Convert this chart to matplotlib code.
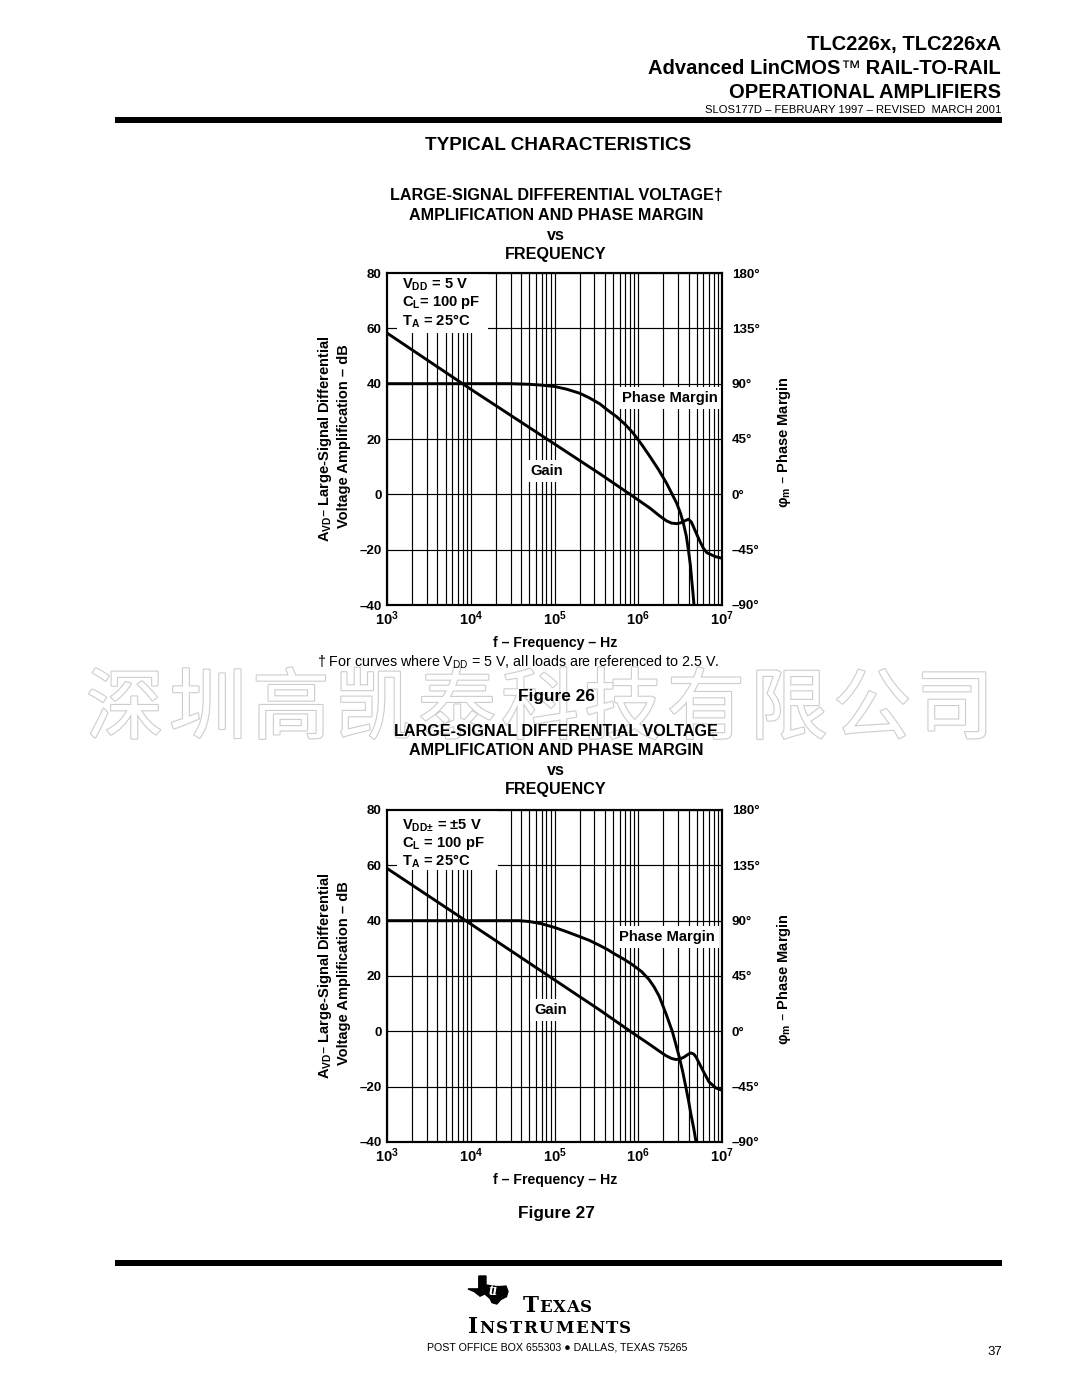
import matplotlib
matplotlib.use("Agg")
import matplotlib.pyplot as plt
from matplotlib.patches import Rectangle, Polygon
from matplotlib.lines import Line2D
import matplotlib.patheffects as pe

plt.rcParams['font.family'] = ['Liberation Sans', 'DejaVu Sans']
plt.rcParams['mathtext.default'] = 'regular'

# ---------------- data ----------------
# Figure 26  (VDD = 5 V)
freq_gain_26 = [1e3, 1e4, 1e5, 3.49e5, 8.73e5, 1.38e6, 1.8e6, 2.18e6, 2.5e6, 2.88e6,
                3.2e6, 3.46e6, 3.97e6, 4.3e6, 4.56e6, 5.0e6, 5.47e6, 6.0e6, 6.6e6, 8.3e6, 1e7]
gain_26 = [58.3, 38.0, 18.2, 7.4, -0.8, -5.0, -7.8, -9.6, -10.4, -10.6,
           -10.3, -9.8, -9.0, -10.0, -11.7, -14.5, -17.1, -19.5, -21.1, -22.5, -23.1]
freq_phase_26 = [1e3, 1e4, 3e4, 5e4, 7e4, 1e5, 1.4e5, 2e5, 2.6e5, 3.49e5, 4.3e5, 5.5e5, 7e5,
                 8.7e5, 1.1e6, 1.38e6, 1.75e6, 2.18e6, 2.5e6, 2.88e6, 3.2e6, 3.46e6, 3.75e6,
                 3.97e6, 4.2e6, 4.35e6, 4.5e6, 4.63e6]
phase_26 = [90, 90, 90, 89.5, 88.8, 87.7, 85.5, 82.2, 78.5, 73.5, 68.5, 63.2, 56.8,
            49.8, 40.5, 30.7, 20.0, 9.0, 1.0, -7.3, -15.5, -23.6, -34.0,
            -45.3, -58.0, -69.7, -80.0, -90]

# Figure 27  (VDD+- = +-5 V)
freq_gain_27 = [1e3, 1e4, 1e5, 3.43e5, 8.6e5, 1.35e6, 1.75e6, 2.14e6, 2.5e6, 2.82e6,
                3.2e6, 3.53e6, 3.9e6, 4.24e6, 4.6e6, 4.9e6, 5.4e6, 5.9e6, 7.0e6, 8.5e6, 1e7]
gain_27 = [58.9, 38.8, 18.6, 7.8, -0.6, -4.6, -7.0, -8.8, -9.8, -10.2,
           -9.9, -9.3, -8.4, -7.8, -8.2, -9.3, -11.8, -14.1, -18.3, -20.5, -21.3]
freq_phase_27 = [1e3, 1e4, 3.8e4, 5e4, 7e4, 1e5, 1.4e5, 2e5, 2.6e5, 3.43e5, 4.3e5, 5.2e5,
                 6.8e5, 8.6e5, 1.1e6, 1.35e6, 1.55e6, 1.78e6, 2.14e6, 2.56e6, 3.09e6,
                 3.4e6, 3.7e6, 4.0e6, 4.24e6, 4.6e6, 4.9e6]
phase_27 = [90, 90, 90, 89.3, 87.5, 84.5, 81.0, 77.0, 74.0, 70.0, 66.5, 63.0,
            58.5, 54.0, 48.5, 42.0, 36.0, 28.5, 14.5, -0.4, -20.9,
            -33.0, -45.3, -57.0, -66.9, -79.0, -90]

gain_ticks = [-40, -20, 0, 20, 40, 60, 80]
phase_ticks = [-90, -45, 0, 45, 90, 135, 180]
decade_exponents = [3, 4, 5, 6, 7]

# ---------------- figure ----------------
W, H = 1080, 1398
fig = plt.figure(figsize=(W / 100, H / 100), dpi=100)
renderer = fig.canvas.get_renderer()


def fx(x):
    return x / W


def fy(y):
    return 1 - y / H


def ftext(x, y, s, **kw):
    return fig.text(fx(x), fy(y), s, **kw)


def seq_text(x, y, parts, align='left', tracking=0.0):
    """place consecutive text pieces on a shared baseline"""
    arts = []
    for s, kw in parts:
        t = fig.text(0, fy(y), s, va='baseline', ha='left', **kw)
        arts.append(t)
    widths = [t.get_window_extent(renderer).width + tracking for t in arts]
    total = sum(widths) - tracking
    if align == 'right':
        x = x - total
    elif align == 'center':
        x = x - total / 2
    for t, w in zip(arts, widths):
        t.set_x(fx(x))
        x += w
    return arts


def hline(x0, x1, y, lw_px):
    fig.add_artist(Line2D([fx(x0), fx(x1)], [fy(y), fy(y)], color='black',
                          linewidth=lw_px * 0.72, solid_capstyle='butt'))


# ---------------- header ----------------
ftext(1001, 50, 'TLC226x, TLC226xA', ha='right', va='baseline', fontsize=14.5, fontweight='bold')
seq_text(1001, 74, [('Advanced LinCMOS', dict(fontsize=14.5, fontweight='bold')),
                    ('™', dict(fontsize=14.5)),
                    (' RAIL-TO-RAIL', dict(fontsize=14.5, fontweight='bold'))], align='right')
ftext(1001, 98, 'OPERATIONAL AMPLIFIERS', ha='right', va='baseline', fontsize=14.5, fontweight='bold')
ftext(1001, 113, 'SLOS177D – FEBRUARY 1997 – REVISED  MARCH 2001', ha='right', va='baseline', fontsize=8.1)
hline(115, 1002, 120, 6)
ftext(558, 150, 'TYPICAL CHARACTERISTICS', ha='center', va='baseline', fontsize=13.6, fontweight='bold')

TS = 11.6  # chart title size
LS = 10.6  # annotation size


# ---------------- charts ----------------
def chart(top, title_y, fg, g, fp, p, legend, legend_y, box_w, pm_xy, gain_xy, fig_label, fig_label_y,
          footnote=False):
    left, right, bottom = 387, 722, top + 332
    t1, t2, t3, t4 = title_y
    ftext(556, t1, 'LARGE-SIGNAL DIFFERENTIAL VOLTAGE' + ('†' if footnote else ''),
          ha='center', va='baseline', fontsize=TS, fontweight='bold')
    ftext(556, t2, 'AMPLIFICATION AND PHASE MARGIN', ha='center', va='baseline', fontsize=TS, fontweight='bold')
    ftext(556, t3, 'vs', ha='center', va='baseline', fontsize=TS, fontweight='bold')
    ftext(556, t4, 'FREQUENCY', ha='center', va='baseline', fontsize=TS, fontweight='bold')

    ax = fig.add_axes([fx(left), fy(bottom), (right - left) / W, (bottom - top) / H])
    ax.set_xscale('log')
    ax.set_xlim(1e3, 1e7)
    ax.set_ylim(gain_ticks[0], gain_ticks[-1])
    ax.set_yticks(gain_ticks)
    ax.set_yticklabels([(f'–{abs(v)}' if v < 0 else f'{v}') for v in gain_ticks],
                       fontweight='bold', fontsize=9.6)
    ax.set_xticks([10.0 ** e for e in decade_exponents])
    ax.set_xticklabels([f'10$^{{{e}}}$' for e in decade_exponents], fontweight='bold', fontsize=10.5)
    ax.set_xticks([m * 10.0 ** e for e in decade_exponents[:-1] for m in range(2, 10)], minor=True)
    ax.tick_params(which='both', length=0)
    ax.tick_params(axis='y', pad=4)
    ax.tick_params(axis='x', pad=3)
    ax.grid(True, which='both', axis='x', color='black', linewidth=0.85)
    ax.grid(True, which='major', axis='y', color='black', linewidth=0.85)
    for s in ax.spines.values():
        s.set_linewidth(1.5)

    # white boxes behind annotations
    ax.add_patch(Rectangle((0, 0.845), 0.03, 0.2, transform=ax.transAxes, facecolor='white',
                           edgecolor='none', zorder=2))
    ax.add_patch(Rectangle((0.03, 0.82), box_w - 0.03, 0.2, transform=ax.transAxes, facecolor='white',
                           edgecolor='none', zorder=2))
    for (s, yy) in zip(legend, legend_y):
        ax.text(0.045, yy, s, transform=ax.transAxes, fontsize=LS, fontweight='bold',
                va='center', ha='left', zorder=4)

    ax.plot(fg, g, color='black', linewidth=2.1, zorder=3, solid_joinstyle='round')
    ax.text(pm_xy[0], pm_xy[1], 'Phase Margin', fontsize=LS, fontweight='bold', ha='center', va='center',
            zorder=4, bbox=dict(facecolor='white', edgecolor='none', pad=3))
    ax.text(gain_xy[0], gain_xy[1], 'Gain', fontsize=LS, fontweight='bold', ha='center', va='center',
            zorder=4, bbox=dict(facecolor='white', edgecolor='none', pad=3))

    ax2 = ax.twinx()
    ax2.set_ylim(phase_ticks[0], phase_ticks[-1])
    ax2.set_yticks(phase_ticks)
    ax2.set_yticklabels([(f'–{abs(v)}°' if v < 0 else f'{v}°') for v in phase_ticks],
                        fontweight='bold', fontsize=9.6)
    ax2.tick_params(length=0, pad=7)
    for s in ax2.spines.values():
        s.set_linewidth(1.5)
    ax2.plot(fp, p, color='black', linewidth=2.1, zorder=3, solid_joinstyle='round')

    # axis labels
    cy = (top + bottom) / 2
    ftext(325, cy, 'A$_{VD}$– Large-Signal Differential', rotation=90, ha='center', va='center',
          fontsize=10.5, fontweight='bold')
    ftext(344, cy - 3, 'Voltage Amplification – dB', rotation=90, ha='center', va='center',
          fontsize=10.5, fontweight='bold')
    ftext(784, cy + 3, 'φ$_{m}$ – Phase Margin', rotation=90, ha='center', va='center',
          fontsize=10.5, fontweight='bold')
    ftext(555, bottom + 42, 'f – Frequency – Hz', ha='center', va='baseline', fontsize=10.2, fontweight='bold')
    if footnote:
        ftext(317, bottom + 62, '† For curves where V$_{DD}$ = 5 V, all loads are referenced to 2.5 V.',
              ha='left', va='baseline', fontsize=10.3)
    ftext(556, fig_label_y, fig_label, ha='center', va='baseline', fontsize=12.4, fontweight='bold')
    return ax


chart(273, (200, 220, 240, 259), freq_gain_26, gain_26, freq_phase_26, phase_26,
      ['V$_{DD}$ = 5 V', 'C$_{L}$= 100 pF', 'T$_{A}$ = 25°C'], [0.965, 0.911, 0.856], 0.30,
      (2.4e6, 34.9), (8.1e4, 8.5), 'Figure 26', 701, footnote=True)

chart(810, (736, 755, 775, 794), freq_gain_27, gain_27, freq_phase_27, phase_27,
      ['V$_{DD±}$ = ±5 V', 'C$_{L}$ = 100 pF', 'T$_{A}$ = 25°C'], [0.952, 0.899, 0.844], 0.33,
      (2.2e6, 34.0), (8.9e4, 7.6), 'Figure 27', 1218)

# ---------------- watermark ----------------
wm = '深圳高凯泰科技有限公司'
for i, ch in enumerate(wm):
    ftext(125 + i * 83.0, 711, ch, ha='center', va='center', fontsize=56,
          family=['Noto Sans CJK SC'], color='white', zorder=1,
          path_effects=[pe.withStroke(linewidth=1.6, foreground='#cdcdcd')])

# ---------------- footer ----------------
hline(115, 1002, 1263, 6)

# TI emblem (rough Texas outline)
lx0, ly0, lw, lh = 468, 1276, 40, 28
shape = [(0.27, 0.0), (0.45, 0.0), (0.45, 0.32), (0.62, 0.36), (0.78, 0.38), (0.95, 0.36),
         (1.0, 0.55), (0.96, 0.74), (0.82, 0.84), (0.72, 1.0), (0.6, 0.95), (0.55, 0.8),
         (0.42, 0.64), (0.3, 0.72), (0.16, 0.56), (0.0, 0.46), (0.27, 0.46)]
fig.add_artist(Polygon([(fx(lx0 + u * lw), fy(ly0 + v * lh)) for u, v in shape], closed=True,
                       facecolor='black', edgecolor='black', transform=fig.transFigure))
ftext(lx0 + 0.62 * lw, ly0 + 0.55 * lh, 'ti', ha='center', va='center', fontsize=12,
      fontweight='bold', style='italic', color='white', family=['Liberation Serif'])

serif = ['DejaVu Serif']
seq_text(523, 1312, [('T', dict(fontsize=15.5, family=serif, fontweight='bold'))] +
         [(c, dict(fontsize=12, family=serif, fontweight='bold')) for c in 'EXAS'], tracking=0.5)
seq_text(468, 1333, [('I', dict(fontsize=15.5, family=serif, fontweight='bold'))] +
         [(c, dict(fontsize=12, family=serif, fontweight='bold')) for c in 'NSTRUMENTS'], tracking=1.5)
ftext(557, 1350, 'POST OFFICE BOX 655303 ● DALLAS, TEXAS 75265', ha='center', va='baseline', fontsize=7.7)
ftext(1002, 1355, '37', ha='right', va='baseline', fontsize=9.5)

fig.savefig('out.png', dpi=100, facecolor='white')
